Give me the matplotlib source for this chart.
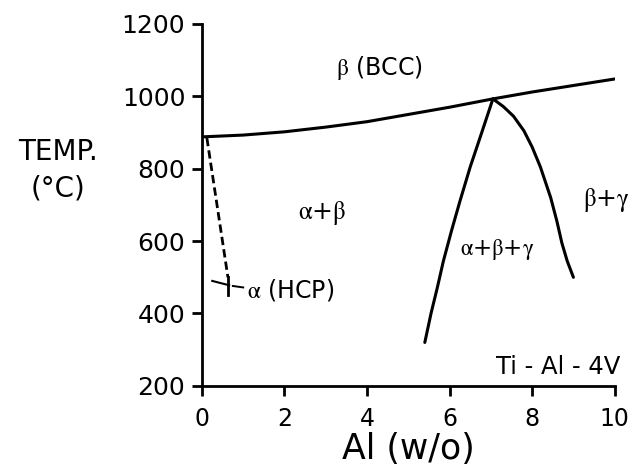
import matplotlib
matplotlib.use("Agg")
import matplotlib.pyplot as plt

plt.rcParams["font.family"] = ["DejaVu Sans"]
plt.rcParams["mathtext.fontset"] = "stix"

# Ti-Al-4V pseudo-binary section: Al content (wt %) vs temperature (°C)
beta_transus_al = [0.0, 1.0, 2.0, 3.0, 4.0, 5.0, 6.0, 7.05, 8.0, 9.0, 10.0]
beta_transus_t = [888, 893, 902, 915, 930, 950, 970, 993, 1012, 1030, 1048]

abg_left_al = [5.4, 5.55, 5.7, 5.85, 6.05, 6.25, 6.5, 6.75, 7.05]
abg_left_t = [320, 400, 470, 545, 630, 710, 805, 890, 993]

abg_right_al = [7.05, 7.3, 7.55, 7.8, 8.0, 8.2, 8.45, 8.6, 8.72, 8.85, 9.0]
abg_right_t = [993, 972, 945, 905, 860, 805, 720, 655, 595, 545, 500]

alpha_solvus_al = [0.12, 0.63]
alpha_solvus_t = [885, 500]

x_ticks = [0, 2, 4, 6, 8, 10]
x_tick_labels = ["0", "2", "4", "6", "8", "10"]
y_ticks = [200, 400, 600, 800, 1000, 1200]
y_tick_labels = ["200", "400", "600", "800", "1000", "1200"]

fig = plt.figure(figsize=(6.35, 4.70), dpi=100)
ax = fig.add_axes([0.318, 0.179, 0.650, 0.770])
ax.set_xlim(0, 10)
ax.set_ylim(200, 1200)

lw = 2.2
ax.plot(beta_transus_al, beta_transus_t, color="black", lw=lw, solid_capstyle="round")
ax.plot(abg_left_al, abg_left_t, color="black", lw=lw, solid_capstyle="round",
        solid_joinstyle="round")
ax.plot(abg_right_al, abg_right_t, color="black", lw=lw, solid_capstyle="round",
        solid_joinstyle="round")
ax.plot(alpha_solvus_al, alpha_solvus_t, color="black", lw=2.0, ls=(0, (3.0, 1.5)))

# marker and leader for the alpha (HCP) field
ax.plot([0.63, 0.63], [500, 450], color="black", lw=2.0)
ax.plot([0.25, 0.66], [490, 478], color="black", lw=1.5)
ax.plot([0.75, 1.0], [476, 472], color="black", lw=1.4)

for side in ("top", "right"):
    ax.spines[side].set_visible(False)
for side in ("left", "bottom"):
    ax.spines[side].set_linewidth(2.0)

ax.set_xticks(x_ticks)
ax.set_xticklabels(x_tick_labels, fontsize=17)
ax.set_yticks(y_ticks)
ax.set_yticklabels(y_tick_labels, fontsize=18)
ax.tick_params(axis="both", direction="out", length=7, width=2.0, pad=5)
ax.tick_params(axis="x", pad=8)

ax.set_xlabel("Al (w/o)", fontsize=25, labelpad=1)

fig.text(0.092, 0.677, "TEMP.", fontsize=20, ha="center", va="center")
fig.text(0.092, 0.600, "(°C)", fontsize=20, ha="center", va="center")

a = r"$\mathrm{\alpha}$"
b = r"$\mathrm{\beta}$"
g = r"$\mathrm{\gamma}$"
ax.text(4.3, 1078, b + " (BCC)", ha="center", va="center", fontsize=17)
ax.text(2.9, 678, a + "+" + b, ha="center", va="center", fontsize=18)
ax.text(9.8, 714, b + "+" + g, ha="center", va="center", fontsize=18)
ax.text(7.15, 576, a + "+" + b + "+" + g, ha="center", va="center", fontsize=16.5)
ax.text(1.1, 466, a + " (HCP)", ha="left", va="center", fontsize=17)
ax.text(10.15, 253, "Ti - Al - 4V", ha="right", va="center", fontsize=17.5)

fig.savefig("out.png", dpi=100, facecolor="white")
